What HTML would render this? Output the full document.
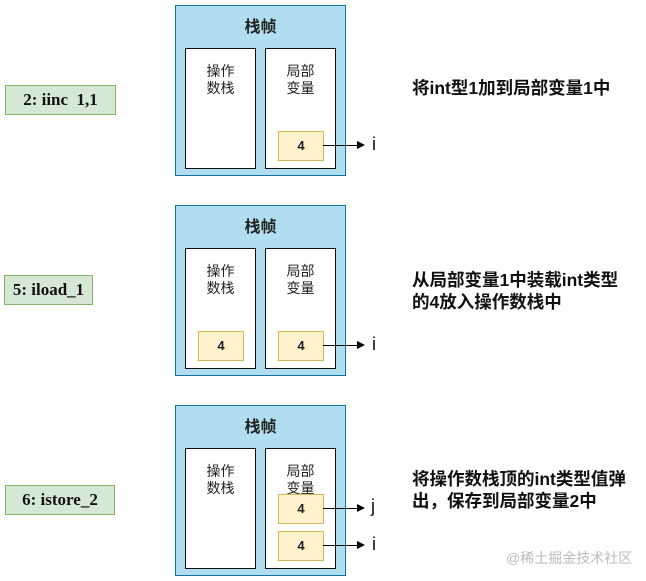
<!DOCTYPE html>
<html><head><meta charset="utf-8"><style>
body{margin:0;width:646px;height:581px;background:#fff;position:relative;overflow:hidden;font-family:"Liberation Sans","Noto Sans CJK SC",sans-serif}
div{position:absolute;box-sizing:border-box}
.g{background:#d5e8d4;border:1px solid #82b366;font-family:"Liberation Serif","Noto Serif CJK SC",serif;font-weight:bold;font-size:17px;text-align:center;line-height:28px;color:#111}
.f{background:#b1ddf0;border:1px solid #10739e;width:171px;height:171px}
.f .t{left:0;width:100%;top:7px;text-align:center;font-weight:bold;font-size:16px;color:#222}
.w{background:#fff;border:1px solid #111;width:71px;height:121px;top:42px;text-align:center;font-size:14px;line-height:17px;padding-top:14px;color:#222}
.y{background:#fff2cc;border:1px solid #d6b656;width:46px;height:30px;text-align:center;line-height:28px;font-size:13px;font-weight:bold;color:#222}
.a{height:1px;background:#000;width:40px}
.a:after{content:"";position:absolute;right:-2px;top:-4px;border-left:8px solid #000;border-top:4.5px solid transparent;border-bottom:4.5px solid transparent}
.l{font-size:18px;color:#111}
.d{font-size:17.5px;font-weight:bold;line-height:22px;color:#111;white-space:nowrap}
</style></head><body>
<div class="g" style="left:5px;top:85px;width:111px;height:30px">2: iinc&nbsp; 1,1</div>
<div class="g" style="left:4px;top:275px;width:89px;height:30px">5: iload_1</div>
<div class="g" style="left:5px;top:485px;width:110px;height:30px">6: istore_2</div>

<div class="f" style="left:175px;top:5px"><div class="t">栈帧</div>
<div class="w" style="left:9px">操作<br>数栈</div><div class="w" style="left:89px">局部<br>变量</div>
<div class="y" style="left:102px;top:125px">4</div></div>
<div class="a" style="left:323px;top:145px"></div><div class="l" style="left:372px;top:134px">i</div>

<div class="f" style="left:175px;top:205px"><div class="t">栈帧</div>
<div class="w" style="left:9px">操作<br>数栈</div><div class="w" style="left:89px">局部<br>变量</div>
<div class="y" style="left:22px;top:125px">4</div>
<div class="y" style="left:102px;top:125px">4</div></div>
<div class="a" style="left:323px;top:345px"></div><div class="l" style="left:372px;top:334px">i</div>

<div class="f" style="left:175px;top:405px"><div class="t">栈帧</div>
<div class="w" style="left:9px">操作<br>数栈</div><div class="w" style="left:89px">局部<br>变量</div>
<div class="y" style="left:102px;top:88px">4</div>
<div class="y" style="left:102px;top:125px">4</div></div>
<div class="a" style="left:323px;top:508px"></div><div class="l" style="left:371px;top:496px">j</div>
<div class="a" style="left:323px;top:545px"></div><div class="l" style="left:372px;top:534px">i</div>

<div class="d" style="left:412px;top:77px">将int型1加到局部变量1中</div>
<div class="d" style="left:412px;top:269px">从局部变量1中装载int类型<br>的4放入操作数栈中</div>
<div class="d" style="left:412px;top:468px">将操作数栈顶的int类型值弹<br>出，保存到局部变量2中</div>
<div style="left:506px;top:548px;font-size:14px;color:#bbb">@稀土掘金技术社区</div>
</body></html>
